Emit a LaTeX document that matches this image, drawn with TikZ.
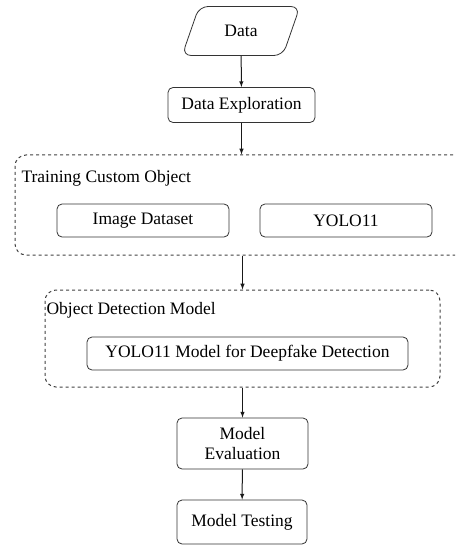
\documentclass[tikz,border=0pt]{standalone}
\usepackage{fontspec}
\setmainfont{Liberation Serif}
\usetikzlibrary{shapes}

\begin{document}
\begin{tikzpicture}[x=1pt,y=-1pt,font=\fontsize{17.5}{20}\selectfont]
  \tikzset{>=latex}
  \tikzset{box/.style={draw=black!80, line width=0.8pt, rounded corners=5pt, align=center, inner sep=0pt}}
  \tikzset{group/.style={draw=black!75, line width=1pt, dashed, rounded corners=11pt, inner sep=0pt}}
  \tikzset{link/.style={->, line width=1pt, black!90}}
  \useasboundingbox (0,0) rectangle (455,548);
  \clip (0,0) rectangle (455,548);

  \node [box, rounded corners=9pt, trapezium, trapezium left angle=60, trapezium right angle=120,
    trapezium stretches=true, minimum width=118pt, minimum height=49pt] (Data) at (241,31) {Data};
  \node [box, minimum width=147pt, minimum height=35pt] (DataExp) at (241.5,105) {Data Exploration};

  \node [group, minimum width=455pt, minimum height=100pt] (Training) at (242.5,205) {};
  \node [anchor=west] (TrainingLabel) at (18,178) {Training Custom Object};
  \node [box, minimum width=172pt, minimum height=33pt] (ImgData) at (143,220.5) {Image Dataset};
  \node [box, minimum width=172pt, minimum height=33pt] (Yolo) at (346,220.5) {YOLO11};

  \node [group, minimum width=395pt, minimum height=97pt] (ObjDet) at (242.5,338.5) {};
  \node [anchor=west] (ObjDetLabel) at (43,310) {Object Detection Model};
  \node [box, minimum width=321pt, minimum height=33pt] (YoloModel) at (247.5,353.5) {YOLO11 Model for Deepfake Detection};

  \node [box, minimum width=131pt, minimum height=51pt] (Eval) at (242.5,443.5) {Model\\Evaluation};
  \node [box, minimum width=130pt, minimum height=44pt] (Testing) at (242,522) {Model Testing};

  \draw [link] (Data) -- (DataExp);
  \draw [link] (DataExp) -- (DataExp |- Training.north);
  \draw [link] (Training.south) -- (ObjDet.north);
  \draw [link] (ObjDet.south) -- (Eval);
  \draw [link] (Eval) -- (Testing);
\end{tikzpicture}
\end{document}
